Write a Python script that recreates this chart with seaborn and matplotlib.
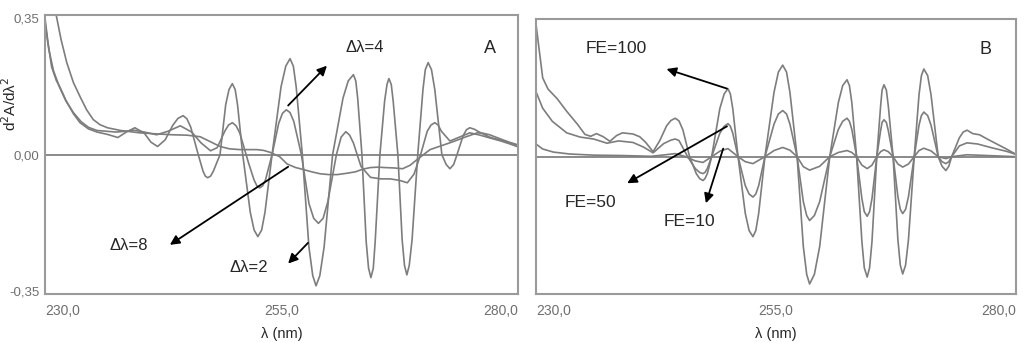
import matplotlib
matplotlib.use("Agg")
import matplotlib.pyplot as plt
import seaborn as sns

# ---- panel A: second derivative spectra, different delta-lambda ----
wl_d2 = [230.0, 230.3, 230.7, 231.2, 231.6, 232.2, 233.0, 233.7, 234.6, 235.5, 236.6, 237.7,
         238.6, 239.5, 240.5, 241.2, 241.9, 242.7, 243.5, 244.05, 244.6, 245.0, 245.4, 246.2,
         246.7, 246.95, 247.2, 247.5, 247.8, 248.5, 249.1, 249.45, 249.8, 250.1, 250.35, 250.9,
         251.7, 252.1, 252.5, 252.9, 253.25, 254.0, 254.95, 255.45, 255.9, 256.25, 256.55, 257.2,
         257.9, 258.3, 258.65, 259.05, 259.5, 260.4, 261.5, 262.05, 262.6, 262.85, 263.05, 263.5,
         263.95, 264.2, 264.45, 264.7, 264.9, 265.4, 265.9, 266.15, 266.35, 266.6, 266.8, 267.3,
         267.75, 268.0, 268.25, 268.5, 268.8, 269.4, 269.95, 270.2, 270.5, 270.85, 271.2, 271.95,
         272.4, 272.8, 273.2, 273.55, 274.2, 274.55, 274.9, 275.4, 275.9, 277.0, 278.0, 279.0, 280.0]
d2 = [0.350, 0.290, 0.225, 0.190, 0.172, 0.140, 0.105, 0.082, 0.066, 0.058, 0.052, 0.044,
      0.058, 0.069, 0.055, 0.032, 0.021, 0.038, 0.075, 0.093, 0.100, 0.092, 0.071, 0.000,
      -0.042, -0.055, -0.059, -0.055, -0.042, 0.000, 0.128, 0.167, 0.182, 0.167, 0.128, 0.000,
      -0.148, -0.193, -0.210, -0.193, -0.148, 0.000, 0.174, 0.227, 0.246, 0.227, 0.174, 0.000,
      -0.237, -0.310, -0.336, -0.310, -0.237, 0.000, 0.145, 0.189, 0.205, 0.189, 0.145, 0.000,
      -0.223, -0.291, -0.315, -0.291, -0.223, 0.000, 0.138, 0.180, 0.195, 0.180, 0.138, 0.000,
      -0.218, -0.284, -0.308, -0.284, -0.218, 0.000, 0.167, 0.218, 0.236, 0.218, 0.167, 0.000,
      -0.025, -0.036, -0.025, 0.000, 0.049, 0.064, 0.069, 0.065, 0.058, 0.045, 0.038, 0.031, 0.024]

wl_d4 = [230.0, 230.4, 230.9, 231.5, 232.2, 233.0, 233.8, 234.6, 235.5, 236.5, 237.5, 238.5,
         239.3, 240.5, 241.8, 243.0, 244.3, 245.5, 246.5, 247.5, 248.2, 249.0, 249.4, 249.8,
         250.2, 250.6, 251.5, 252.1, 252.4, 252.7, 253.0, 253.3, 254.0, 254.7, 255.1, 255.5,
         255.9, 256.3, 257.1, 257.9, 258.4, 258.9, 259.4, 259.9, 260.8, 261.3, 261.8, 262.2,
         262.6, 263.4, 264.4, 265.5, 266.5, 267.5, 268.3, 269.0, 269.7, 270.4, 270.8, 271.2,
         271.55, 271.9, 272.8, 273.8, 274.9, 276.0, 277.0, 278.2, 279.2, 280.0]
d4 = [0.340, 0.270, 0.215, 0.175, 0.138, 0.108, 0.085, 0.070, 0.062, 0.060, 0.058, 0.060,
      0.063, 0.058, 0.051, 0.060, 0.074, 0.058, 0.030, 0.010, 0.018, 0.060, 0.076, 0.082,
      0.074, 0.055, -0.020, -0.065, -0.080, -0.085, -0.080, -0.065, 0.000, 0.080, 0.106, 0.115,
      0.108, 0.085, 0.000, -0.125, -0.163, -0.176, -0.163, -0.120, 0.000, 0.045, 0.059, 0.050,
      0.030, -0.030, -0.058, -0.062, -0.062, -0.066, -0.072, -0.050, 0.000, 0.060, 0.076, 0.082,
      0.076, 0.060, 0.035, 0.045, 0.056, 0.050, 0.043, 0.035, 0.027, 0.020]

wl_d8 = [231.0, 231.7, 232.3, 233.0, 233.7, 234.4, 235.1, 235.8, 236.6, 238.0, 240.0, 242.0,
         243.5, 245.0, 246.4, 247.5, 248.5, 249.5, 250.6, 251.5, 252.4, 253.1, 253.8, 254.8,
         255.6, 256.5, 257.3, 258.2, 259.1, 260.0, 260.9, 261.8, 262.8, 263.6, 264.4, 265.2,
         265.9, 266.9, 267.8, 268.6, 269.3, 270.0, 270.7, 271.9, 273.1, 274.4, 275.7, 276.3,
         277.0, 278.4, 279.2, 280.0]
d8 = [0.380, 0.295, 0.236, 0.185, 0.149, 0.115, 0.090, 0.077, 0.069, 0.062, 0.056, 0.053,
      0.051, 0.050, 0.046, 0.033, 0.021, 0.015, 0.013, 0.013, 0.013, 0.011, 0.006, -0.005,
      -0.024, -0.033, -0.038, -0.044, -0.049, -0.051, -0.051, -0.048, -0.044, -0.037, -0.033, -0.032,
      -0.033, -0.034, -0.036, -0.027, -0.013, 0.000, 0.013, 0.023, 0.033, 0.045, 0.056, 0.055,
      0.051, 0.038, 0.031, 0.025]

# ---- panel B: different amplification factors (FE) ----
wl_fe100 = [230.0, 230.4, 230.7, 231.25, 232.2, 233.2, 234.3, 235.1, 235.7, 236.3, 237.0, 237.7,
            238.4, 239.0, 240.1, 240.8, 241.4, 242.2, 242.9, 243.6, 244.05, 244.5, 244.9, 245.3,
            246.0, 246.7, 247.05, 247.4, 247.6, 247.85, 248.3, 249.15, 249.6, 250.0, 250.25, 250.5,
            251.05, 251.8, 252.2, 252.6, 252.9, 253.2, 253.85, 254.8, 255.25, 255.7, 256.1, 256.45,
            257.2, 257.85, 258.2, 258.5, 259.0, 259.55, 260.6, 261.5, 261.95, 262.4, 262.65, 262.9,
            263.4, 263.95, 264.2, 264.5, 264.75, 265.0, 265.5, 265.9, 266.05, 266.25, 266.5, 266.7,
            267.2, 267.7, 267.95, 268.2, 268.5, 268.8, 269.4, 269.9, 270.15, 270.4, 270.8, 271.15,
            271.9, 272.3, 272.7, 273.0, 273.3, 274.1, 274.5, 274.9, 275.5, 276.2, 277.0, 278.0,
            279.0, 280.0]
fe100 = [0.345, 0.265, 0.205, 0.176, 0.151, 0.118, 0.085, 0.058, 0.053, 0.060, 0.052, 0.040,
         0.055, 0.062, 0.059, 0.052, 0.038, 0.013, 0.042, 0.080, 0.094, 0.100, 0.093, 0.070,
         0.000, -0.044, -0.057, -0.062, -0.057, -0.044, 0.000, 0.125, 0.163, 0.177, 0.163, 0.125,
         0.000, -0.147, -0.192, -0.208, -0.192, -0.147, 0.000, 0.168, 0.220, 0.238, 0.220, 0.168,
         0.000, -0.234, -0.306, -0.331, -0.306, -0.234, 0.000, 0.141, 0.185, 0.200, 0.185, 0.141,
         0.000, -0.221, -0.289, -0.313, -0.289, -0.221, 0.000, 0.132, 0.173, 0.187, 0.173, 0.132,
         0.000, -0.216, -0.282, -0.305, -0.282, -0.216, 0.000, 0.161, 0.211, 0.228, 0.211, 0.161,
         0.000, -0.025, -0.036, -0.025, 0.000, 0.049, 0.064, 0.069, 0.060, 0.057, 0.046, 0.033,
         0.020, 0.006]

wl_fe50 = [230.0, 230.7, 231.7, 233.2, 234.6, 236.0, 237.4, 238.6, 240.1, 241.2, 242.2, 243.3,
           244.05, 244.5, 244.9, 245.8, 246.6, 247.05, 247.4, 247.6, 247.85, 248.3, 249.15, 249.6,
           250.0, 250.25, 250.5, 251.05, 251.8, 252.2, 252.6, 252.9, 253.2, 253.85, 254.8, 255.25,
           255.7, 256.1, 256.45, 257.2, 257.85, 258.2, 258.5, 259.0, 259.55, 260.6, 261.5, 261.95,
           262.4, 262.65, 262.9, 263.4, 263.95, 264.2, 264.5, 264.75, 265.0, 265.5, 265.9, 266.05,
           266.25, 266.5, 266.7, 267.2, 267.7, 267.95, 268.2, 268.5, 268.8, 269.4, 269.9, 270.15,
           270.4, 270.8, 271.15, 271.9, 272.3, 272.7, 273.0, 273.3, 274.1, 274.9, 276.0, 277.5,
           279.0, 280.0]
fe50 = [0.169, 0.126, 0.092, 0.062, 0.051, 0.046, 0.035, 0.041, 0.037, 0.025, 0.010, 0.034,
        0.043, 0.046, 0.042, 0.000, -0.031, -0.041, -0.044, -0.041, -0.031, 0.000, 0.061, 0.079,
        0.086, 0.079, 0.061, 0.000, -0.075, -0.097, -0.105, -0.097, -0.075, 0.000, 0.085, 0.111,
        0.120, 0.111, 0.085, 0.000, -0.117, -0.153, -0.166, -0.153, -0.117, 0.000, 0.071, 0.092,
        0.100, 0.092, 0.071, 0.000, -0.109, -0.143, -0.155, -0.143, -0.109, 0.000, 0.068, 0.089,
        0.096, 0.089, 0.068, 0.000, -0.104, -0.137, -0.148, -0.137, -0.104, 0.000, 0.082, 0.107,
        0.116, 0.107, 0.082, 0.000, -0.013, -0.018, -0.013, 0.000, 0.028, 0.036, 0.033, 0.023,
        0.014, 0.006]

wl_fe10 = [230.0, 230.7, 231.8, 233.5, 236.0, 239.0, 242.0, 243.5, 244.5, 245.6, 246.6, 247.4,
           248.3, 249.2, 250.0, 251.05, 251.8, 252.6, 253.85, 254.8, 255.7, 256.45, 257.2, 257.85,
           258.5, 259.55, 260.6, 261.5, 262.4, 262.9, 263.4, 263.95, 264.5, 265.0, 265.5, 265.9,
           266.25, 266.7, 267.2, 267.7, 268.2, 268.8, 269.4, 269.9, 270.4, 271.15, 271.9, 272.7,
           273.3, 274.9, 277.0, 280.0]
fe10 = [0.033, 0.020, 0.012, 0.007, 0.004, 0.003, 0.001, 0.005, 0.008, 0.000, -0.011, -0.015,
        0.000, 0.015, 0.021, 0.000, -0.013, -0.018, 0.000, 0.016, 0.024, 0.017, 0.000, -0.026,
        -0.035, -0.025, 0.000, 0.011, 0.016, 0.011, 0.000, -0.022, -0.031, -0.022, 0.000, 0.013,
        0.018, 0.013, 0.000, -0.019, -0.027, -0.019, 0.000, 0.016, 0.022, 0.015, 0.000, -0.005,
        0.000, 0.005, 0.003, 0.000]

x_ticks = [230, 255, 280]
x_ticklabels = ["230,0", "255,0", "280,0"]
y_ticks = [-0.35, 0.0, 0.35]
y_ticklabels = ["-0,35", "0,00", "0,35"]

sns.set_style("white")
plt.rcParams["font.family"] = ["Liberation Sans", "DejaVu Sans"]

curve_col = "#7d7d7d"
frame_col = "#9a9a9a"
tick_col = "#6f6f6f"

fig = plt.figure(figsize=(10.25, 3.43), dpi=100)
axA = fig.add_axes([0.0439, 0.1429, 0.4615, 0.8134])
axB = fig.add_axes([0.5229, 0.1429, 0.4683, 0.8017])

for ax in (axA, axB):
    ax.axhline(0, color="#8a8a8a", lw=1.4, zorder=1)
    ax.set_xlim(230, 280)
    ax.set_ylim(-0.357, 0.358)
    for s in ax.spines.values():
        s.set_color(frame_col)
        s.set_linewidth(1.5)
    ax.set_xticks(x_ticks)
    ax.set_xticklabels(x_ticklabels, fontsize=10, color=tick_col)
    ax.tick_params(axis="both", length=2, width=1, color=frame_col, pad=5)
    labs = ax.get_xticklabels()
    labs[0].set_ha("left")
    labs[-1].set_ha("right")
    ax.set_xlabel("λ (nm)", fontsize=10.5, labelpad=7)

sns.lineplot(x=wl_d2, y=d2, ax=axA, color=curve_col, lw=1.2)
sns.lineplot(x=wl_d4, y=d4, ax=axA, color=curve_col, lw=1.2)
sns.lineplot(x=wl_d8, y=d8, ax=axA, color=curve_col, lw=1.2)

sns.lineplot(x=wl_fe100, y=fe100, ax=axB, color=curve_col, lw=1.2)
sns.lineplot(x=wl_fe50, y=fe50, ax=axB, color=curve_col, lw=1.2)
sns.lineplot(x=wl_fe10, y=fe10, ax=axB, color=curve_col, lw=1.2)

axA.set_yticks(y_ticks)
axA.set_yticklabels(y_ticklabels, fontsize=9.5, color=tick_col)
axA.tick_params(axis="y", pad=2)
axA.set_ylabel("d$^2$A/dλ$^2$", fontsize=11)
axA.yaxis.set_label_coords(-0.055, 0.68)
axB.set_yticks([])

arrow = dict(arrowstyle="-|>", color="black", lw=1.3, mutation_scale=14, shrinkA=0, shrinkB=0)

axA.text(277.0, 0.272, "A", fontsize=13, ha="center", va="center")
axA.text(263.8, 0.274, "Δλ=4", fontsize=12, ha="center", va="center")
axA.annotate("", xy=(259.8, 0.228), xytext=(255.7, 0.126), arrowprops=arrow)
axA.text(238.8, -0.233, "Δλ=8", fontsize=12, ha="center", va="center")
axA.annotate("", xy=(243.2, -0.231), xytext=(255.7, -0.031), arrowprops=arrow)
axA.text(251.5, -0.290, "Δλ=2", fontsize=12, ha="center", va="center")
axA.annotate("", xy=(255.7, -0.279), xytext=(257.8, -0.226), arrowprops=arrow)

axB.text(276.8, 0.279, "B", fontsize=13, ha="center", va="center")
axB.text(238.4, 0.282, "FE=100", fontsize=12.5, ha="center", va="center")
axB.annotate("", xy=(243.6, 0.228), xytext=(249.9, 0.177), arrowprops=arrow)
axB.text(235.7, -0.118, "FE=50", fontsize=12.5, ha="center", va="center")
axB.annotate("", xy=(239.5, -0.069), xytext=(249.9, 0.079), arrowprops=arrow)
axB.text(246.0, -0.169, "FE=10", fontsize=12.5, ha="center", va="center")
axB.annotate("", xy=(247.7, -0.121), xytext=(249.5, 0.021), arrowprops=arrow)

fig.savefig("out.png", dpi=100)
